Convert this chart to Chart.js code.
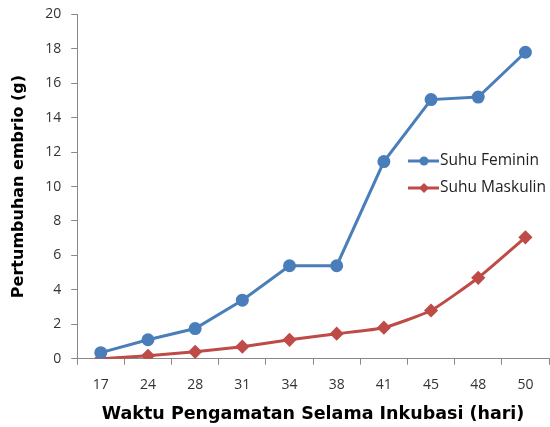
<!DOCTYPE html>
<html>
<head>
<meta charset="utf-8">
<script src="https://cdn.jsdelivr.net/npm/chart.js@4/dist/chart.umd.min.js"></script>
<style>
  html, body { margin: 0; padding: 0; background: #fff; overflow: hidden; }
  body { width: 550px; height: 427px; position: relative; }
  /* canvas un peu plus grand que la fenêtre pour coller aux bords */
  #wrap { width: 557px; height: 431px; position: absolute; left: 0; top: -4px; }
  canvas { display: block; }
</style>
</head>
<body>
<div id="wrap"><canvas id="chart"></canvas></div>
<script>
// Données
const days = ['17', '24', '28', '31', '34', '38', '41', '45', '48', '50'];
const feminin = [0.35, 1.1, 1.75, 3.4, 5.4, 5.4, 11.45, 15.05, 15.2, 17.8];
const maskulin = [0, 0.17, 0.4, 0.7, 1.1, 1.45, 1.8, 2.8, 4.7, 7.05];
const yTicks = [0, 2, 4, 6, 8, 10, 12, 14, 16, 18, 20];

const blue = '#4A7EBB';
const red = '#BE4B48';

// Légende dessinée dans la zone du graphique
const insideLegend = {
    id: 'insideLegend',
    afterDraw(chart) {
        const ctx = chart.ctx;
        const x0 = 408, y0 = 165, gap = 27;
        chart.data.datasets.forEach((ds, i) => {
            const y = y0 + i * gap;
            ctx.save();
            ctx.strokeStyle = ds.borderColor;
            ctx.lineWidth = 3;
            ctx.beginPath();
            ctx.moveTo(x0, y);
            ctx.lineTo(x0 + 31, y);
            ctx.stroke();
            ctx.fillStyle = ds.borderColor;
            ctx.beginPath();
            if (ds.pointStyle === 'rectRot') {
                ctx.moveTo(x0 + 16, y - 5);
                ctx.lineTo(x0 + 21, y);
                ctx.lineTo(x0 + 16, y + 5);
                ctx.lineTo(x0 + 11, y);
                ctx.closePath();
            } else {
                ctx.arc(x0 + 16, y, 4.5, 0, Math.PI * 2);
            }
            ctx.fill();
            ctx.fillStyle = '#222';
            ctx.font = '15.5px "Open Sans", sans-serif';
            ctx.textBaseline = 'middle';
            ctx.fillText(ds.label, x0 + 32, y);
            ctx.restore();
        });
    }
};

const ctx = document.getElementById('chart').getContext('2d');
new Chart(ctx, {
    type: 'line',
    data: {
        labels: days,
        datasets: [
            {
                label: 'Suhu Feminin',
                data: feminin,
                borderColor: blue,
                backgroundColor: blue,
                borderWidth: 3,
                pointStyle: 'circle',
                pointRadius: 5,
                pointHoverRadius: 5,
                tension: 0
            },
            {
                label: 'Suhu Maskulin',
                data: maskulin,
                borderColor: red,
                backgroundColor: red,
                borderWidth: 3,
                pointStyle: 'rectRot',
                pointRadius: 5,
                pointHoverRadius: 5,
                tension: 0.15
            }
        ]
    },
    options: {
        responsive: true,
        maintainAspectRatio: false,
        animation: false,
        layout: { padding: { top: 0, right: 0, left: 9, bottom: 4 } },
        plugins: {
            legend: { display: false },
            tooltip: { enabled: false }
        },
        scales: {
            x: {
                offset: true,
                grid: {
                    offset: true,
                    drawOnChartArea: false,
                    drawTicks: true,
                    tickLength: 6,
                    color: '#888'
                },
                border: { color: '#888', width: 1 },
                ticks: {
                    color: '#333',
                    font: { family: '"Open Sans", sans-serif', size: 14 },
                    padding: 12
                },
                title: {
                    display: true,
                    text: 'Waktu Pengamatan Selama Inkubasi (hari)',
                    color: '#000',
                    font: { family: '"DejaVu Sans", sans-serif', size: 17.5, weight: 'bold', lineHeight: 1 },
                    padding: 0
                }
            },
            y: {
                min: 0,
                max: 20,
                afterBuildTicks(scale) {
                    scale.ticks = yTicks.map(v => ({ value: v }));
                },
                grid: {
                    drawOnChartArea: false,
                    drawTicks: true,
                    tickLength: 6,
                    color: '#888'
                },
                border: { color: '#888', width: 1 },
                ticks: {
                    color: '#333',
                    font: { family: '"Open Sans", sans-serif', size: 14 },
                    padding: 10
                },
                title: {
                    display: true,
                    text: 'Pertumbuhan embrio (g)',
                    color: '#000',
                    font: { family: '"DejaVu Sans", sans-serif', size: 16, weight: 'bold' },
                    padding: { top: 0, bottom: 7 }
                }
            }
        }
    },
    plugins: [insideLegend]
});
</script>
</body>
</html>
